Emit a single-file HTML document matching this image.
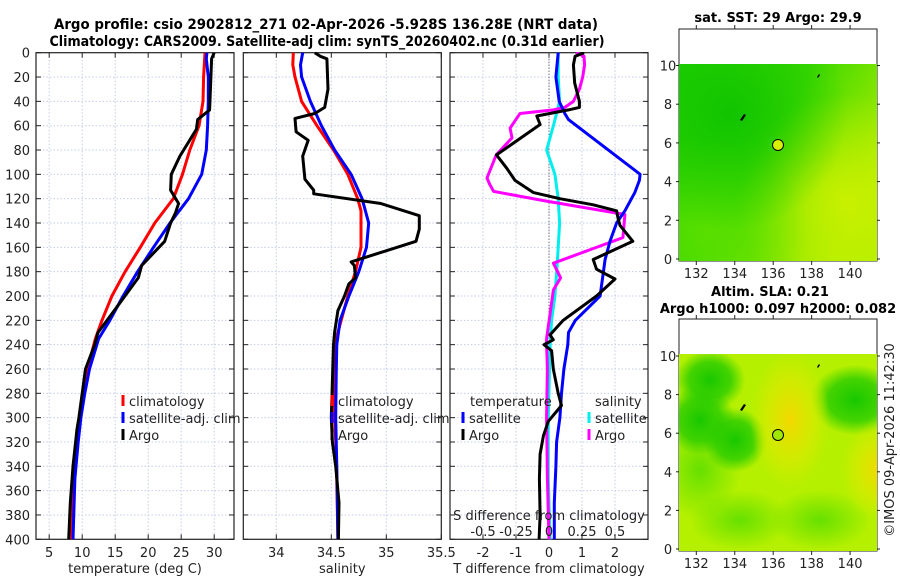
<!DOCTYPE html>
<html><head><meta charset="utf-8"><style>
html,body{margin:0;padding:0;background:#fff;}
svg{display:block;font-family:"DejaVu Sans","Liberation Sans",sans-serif;}
</style></head><body>
<svg id="fig" width="900" height="580" viewBox="0 0 900 580" xmlns="http://www.w3.org/2000/svg">
<defs>
<radialGradient id="g1" cx="0.25" cy="0.25" r="0.6"><stop offset="0" stop-color="#10c400" stop-opacity="1"/><stop offset="1" stop-color="#10c400" stop-opacity="0"/></radialGradient>
<linearGradient id="gTopBase" x1="0" y1="0" x2="1" y2="0.6"><stop offset="0" stop-color="#22cf00"/><stop offset="0.5" stop-color="#3ed800"/><stop offset="1" stop-color="#b0ee00"/></linearGradient>
<radialGradient id="gBR" cx="0.85" cy="0.7" r="0.55"><stop offset="0" stop-color="#c8f000" stop-opacity="1"/><stop offset="1" stop-color="#c8f000" stop-opacity="0"/></radialGradient>
<radialGradient id="gBL" cx="0.15" cy="0.85" r="0.5"><stop offset="0" stop-color="#5ce000" stop-opacity="0.9"/><stop offset="1" stop-color="#5ce000" stop-opacity="0"/></radialGradient>
<radialGradient id="gY" cx="0.5" cy="0.5" r="0.5"><stop offset="0" stop-color="#f4d800"/><stop offset="0.6" stop-color="#d8ea00" stop-opacity="0.7"/><stop offset="1" stop-color="#d8ea00" stop-opacity="0"/></radialGradient>
<radialGradient id="gG" cx="0.5" cy="0.5" r="0.5"><stop offset="0" stop-color="#18c800"/><stop offset="0.6" stop-color="#28cc00" stop-opacity="0.8"/><stop offset="1" stop-color="#28cc00" stop-opacity="0"/></radialGradient>
<radialGradient id="gL" cx="0.5" cy="0.5" r="0.5"><stop offset="0" stop-color="#66e000"/><stop offset="1" stop-color="#66e000" stop-opacity="0"/></radialGradient>
<clipPath id="cTop"><rect x="679" y="64" width="198" height="197"/></clipPath>
<clipPath id="cBot"><rect x="679" y="354" width="198" height="197"/></clipPath>
<clipPath id="cP1"><rect x="36" y="52" width="198" height="488"/></clipPath>
<clipPath id="cP2"><rect x="243" y="52" width="199" height="488"/></clipPath>
<clipPath id="cP3"><rect x="450" y="52" width="198" height="488"/></clipPath>
</defs>

<text x="326" y="29" text-anchor="middle" font-size="14" font-weight="bold" textLength="544" lengthAdjust="spacingAndGlyphs">Argo profile: csio 2902812_271 02-Apr-2026 -5.928S 136.28E (NRT data)</text>
<text x="327" y="46" text-anchor="middle" font-size="14" font-weight="bold" textLength="555" lengthAdjust="spacingAndGlyphs">Climatology: CARS2009. Satellite-adj clim: synTS_20260402.nc (0.31d earlier)</text>

<g id="plots"></g>

<g>
<text x="778" y="22" text-anchor="middle" font-size="13" font-weight="bold">sat. SST: 29 Argo: 29.9</text>
<rect x="679" y="29" width="198" height="232" fill="#fff" stroke="#222"/>
<g clip-path="url(#cTop)">
<rect x="679" y="64" width="198" height="197" fill="url(#gTopBase)"/>
<rect x="679" y="64" width="198" height="197" fill="url(#gBR)"/>
<rect x="679" y="64" width="198" height="197" fill="url(#gBL)"/>
<rect x="679" y="64" width="198" height="197" fill="url(#g1)"/>
</g>
<circle cx="778" cy="145" r="5.5" fill="#d8f000" stroke="#000"/>
<path d="M740,120 l4,-6 l2,1 l-4,6z M817,77 l2,-3 l1,1 l-2,3z" fill="#000"/>
</g>
<g>
<text x="770" y="296" text-anchor="middle" font-size="13" font-weight="bold">Altim. SLA: 0.21</text>
<text x="778" y="313" text-anchor="middle" font-size="13" font-weight="bold">Argo h1000: 0.097 h2000: 0.082</text>
<rect x="679" y="319" width="198" height="232" fill="#fff" stroke="#222"/>
<g clip-path="url(#cBot)">
<rect x="679" y="354" width="198" height="197" fill="#b4f000"/>
<ellipse cx="700" cy="470" rx="40" ry="50" fill="url(#gL)"/>
<ellipse cx="820" cy="520" rx="50" ry="30" fill="url(#gL)"/>
<ellipse cx="740" cy="520" rx="50" ry="30" fill="url(#gL)"/>
<ellipse cx="710" cy="380" rx="35" ry="30" fill="url(#gG)"/>
<ellipse cx="700" cy="420" rx="35" ry="35" fill="url(#gG)"/>
<ellipse cx="735" cy="440" rx="32" ry="32" fill="url(#gG)"/>
<ellipse cx="855" cy="400" rx="45" ry="35" fill="url(#gG)"/>
<ellipse cx="790" cy="420" rx="40" ry="70" fill="url(#gY)"/>
<ellipse cx="880" cy="470" rx="40" ry="50" fill="url(#gY)"/>
</g>
<circle cx="778" cy="435" r="5.5" fill="#a0e800" stroke="#000"/>
<path d="M740,410 l4,-6 l2,1 l-4,6z M817,367 l2,-3 l1,1 l-2,3z" fill="#000"/>
</g>
<text transform="translate(894,440) rotate(-90)" text-anchor="middle" font-size="13" fill="#222">©IMOS 09-Apr-2026 11:42:30</text>
</svg>

<script>
// ===== data =====
const depthTicks = [0,20,40,60,80,100,120,140,160,180,200,220,240,260,280,300,320,340,360,380,400];
const tTicks = [5,10,15,20,25,30];
const sTicks = [34,34.5,35,35.5];
const dTicks = [-2,-1,0,1,2];
const sdTicks = [-0.5,-0.25,0,0.25,0.5];
const sdTickLabels = ["-0.5","-0.25","0","0.25","0.5"];

const climTDepth = [0,20,40,60,80,100,120,140,160,180,200,220,235,260,280,300,320,340,370,400];
const climT      = [28.6,28.4,28.3,27.7,26.3,25.2,23.8,21,18.8,16.5,14.5,13,12,10.8,10.1,9.6,9.2,9.0,8.6,8.4];
const satTDepth  = [0,5,20,40,60,80,100,120,140,160,180,200,220,235,260,280,300,320,350,400];
const satT       = [28.9,28.8,29.1,29.1,29.0,28.8,28.1,26.1,23.3,20.8,18.4,16.2,14.2,12.5,11.1,10.4,9.8,9.4,8.9,8.6];
const argoTDepth = [0,5,47,55,63,85,100,113,124,132,140,155,175,185,205,230,240,260,280,300,310,340,370,400];
const argoT      = [30.0,29.6,29.3,27.5,27.3,24.8,23.5,23.4,24.6,24.1,23.4,22.5,19,18.5,15.8,12.4,11.9,10.5,10.0,9.5,9.2,8.6,8.2,7.95];

const climSDepth = [0,10,20,40,60,80,100,120,130,160,180,200,220,240,260,300,320,350,400];
const climS      = [34.155,34.15,34.17,34.23,34.37,34.52,34.65,34.74,34.77,34.77,34.72,34.65,34.59,34.53,34.525,34.53,34.54,34.55,34.56];
const satSDepth  = [0,10,20,40,60,80,100,120,140,160,180,200,220,240,260,300,340,400];
const satS       = [34.24,34.22,34.23,34.31,34.41,34.53,34.68,34.78,34.84,34.82,34.75,34.66,34.58,34.55,34.545,34.54,34.55,34.56];
const argoSDepth = [0,3,5,30,45,50,54,65,72,85,104,113,116,124,134,145,155,172,175,185,190,200,212,230,240,300,320,340,370,400];
const argoS      = [34.35,34.4,34.46,34.47,34.44,34.35,34.17,34.18,34.29,34.24,34.26,34.34,34.34,34.95,35.3,35.3,35.27,34.68,34.71,34.72,34.66,34.62,34.56,34.53,34.52,34.5,34.51,34.54,34.57,34.565];

const satDTDepth  = [0,20,40,50,55,100,105,115,130,140,155,170,200,220,230,240,260,280,300,320,340,370,400];
const satDT       = [0.28,0.21,0.31,0.48,0.59,2.76,2.74,2.6,2.3,2.05,1.85,1.7,1.55,0.8,0.59,0.57,0.45,0.38,0.33,0.23,0.21,0.16,0.16];
const argoDTDepth = [0,3,10,25,40,45,47,52,59,84,95,105,115,120,125,130,137,142,155,170,178,186,200,220,232,236,240,245,260,280,290,303,315,330,350,380,400];
const argoDT      = [1.06,0.79,0.74,0.78,0.92,0.92,0.59,-0.37,-0.27,-1.59,-1.28,-1.03,-0.47,0.33,1.34,2.05,2.1,2.15,2.54,1.34,1.44,2.0,1.44,0.43,0.03,0.13,-0.15,0.08,0.13,0.28,0.38,-0.02,-0.17,-0.27,-0.29,-0.27,-0.3];
const satDSDepth  = [0,20,40,60,80,100,120,140,160,180,200,220,240,300,350,400];
const satDS       = [0.07,0.07,0.08,0.033,-0.018,0.045,0.07,0.08,0.07,0.058,0.045,0.02,0.008,-0.005,-0.005,0.008];
const argoDSDepth = [0,3,10,20,30,40,45,47,50,62,70,84,103,108,114,122,133,152,173,185,195,235,240,260,300,350,400];
const argoDS      = [0.205,0.265,0.27,0.255,0.23,0.185,0.12,0.033,-0.22,-0.295,-0.28,-0.4,-0.47,-0.45,-0.42,-0.02,0.575,0.56,0.033,0.088,0.033,-0.018,-0.018,-0.012,-0.018,-0.012,0];

// ===== axes =====
const NS = "http://www.w3.org/2000/svg";
const g = document.getElementById('plots');
const Y0 = 52.7, Y1 = 539.3;
const yScale = d => Y0 + (d/400)*(Y1-Y0);
function lin(d0,d1,p0,p1){ return v => p0 + (v-d0)/(d1-d0)*(p1-p0); }
const x1 = lin(3,33,36,234);
const x2 = lin(33.7,35.5,243.3,441.3);
const x3 = lin(-3,3,450,648);
const x3s = v => x3(v*4);

function el(tag, attrs, parent){
  const e = document.createElementNS(NS, tag);
  for (const k in attrs) e.setAttribute(k, attrs[k]);
  (parent||g).appendChild(e);
  return e;
}
function txt(s, x, y, size, anchor, parent){
  const t = el('text', {x:x, y:y, 'font-size':size, 'text-anchor':anchor||'middle', fill:'#222'}, parent);
  t.textContent = s;
  return t;
}

function panel(name, L, R, xs, ticks, labels, xlabel){
  const pg = el('g', {});
  
  
  ticks.forEach(v => {
    const x = xs(v);
    if (x > L+1 && x < R-1) el('line', {x1:x, x2:x, y1:Y0, y2:Y1, stroke:'#c4cbe8', 'stroke-width':1, 'stroke-dasharray':'1.5,2'}, pg);
  });
  depthTicks.forEach(d => {
    const y = yScale(d);
    if (d>0 && d<400) el('line', {x1:L, x2:R, y1:y, y2:y, stroke:'#c4cbe8', 'stroke-width':1, 'stroke-dasharray':'1.5,2'}, pg);
    el('line', {x1:L, x2:L+5, y1:y, y2:y, stroke:'#222'}, pg);
    el('line', {x1:R-5, x2:R, y1:y, y2:y, stroke:'#222'}, pg);
  });
  ticks.forEach((v,i) => {
    const x = xs(v);
    el('line', {x1:x, x2:x, y1:Y1, y2:Y1-5, stroke:'#222'}, pg);
    el('line', {x1:x, x2:x, y1:Y0, y2:Y0+5, stroke:'#222'}, pg);
    const t = txt(labels[i], x, 557, 13, 'middle', pg);
    
    
  });
  el('rect', {x:L, y:Y0, width:R-L, height:Y1-Y0, fill:'none', stroke:'#222', 'stroke-width':1.2}, pg);
  const xl = txt(xlabel, (L+R)/2, 573, 13, 'middle', pg);
  
  
  return pg;
}

function series(name, depths, vals, xs, color, clip, parent){
  const pts = depths.map((d,i) => xs(vals[i]).toFixed(1) + ',' + yScale(d).toFixed(1)).join(' ');
  const p = el('polyline', {points:pts, fill:'none', stroke:color, 'stroke-width':3, 'stroke-linejoin':'round', 'clip-path':'url(#'+clip+')'}, parent);
  
  
}
function legendEntry(name, x, y, color, label, parent){
  const lg = el('g', {}, parent);
  
  
  el('rect', {x:x-1.5, y:y-11, width:3, height:11, fill:color}, lg);
  txt(label, x+6, y, 13, 'start', lg);
}

depthTicks.forEach(d => {
  const t = txt(String(d), 30, yScale(d)+5, 13, 'end');
  
  
});

const p1 = panel('temperature-panel', 36, 234, x1, tTicks, tTicks.map(String), 'temperature (deg C)');
series('climatology-temperature-line', climTDepth, climT, x1, '#ff0000', 'cP1', p1);
series('satellite-temperature-line', satTDepth, satT, x1, '#0000ff', 'cP1', p1);
series('argo-temperature-line', argoTDepth, argoT, x1, '#000000', 'cP1', p1);
legendEntry('legend-climatology', 123, 406, '#ff0000', 'climatology', p1);
legendEntry('legend-satellite-adj', 123, 423, '#0000ff', 'satellite-adj. clim', p1);
legendEntry('legend-argo', 123, 440, '#000000', 'Argo', p1);

const p2 = panel('salinity-panel', 243.3, 441.3, x2, sTicks, ["34","34.5","35","35.5"], 'salinity');
series('climatology-salinity-line', climSDepth, climS, x2, '#ff0000', 'cP2', p2);
series('satellite-salinity-line', satSDepth, satS, x2, '#0000ff', 'cP2', p2);
series('argo-salinity-line', argoSDepth, argoS, x2, '#000000', 'cP2', p2);
legendEntry('legend-climatology-sal', 332, 406, '#ff0000', 'climatology', p2);
legendEntry('legend-satellite-adj-sal', 332, 423, '#0000ff', 'satellite-adj. clim', p2);
legendEntry('legend-argo-sal', 332, 440, '#000000', 'Argo', p2);

const p3 = panel('difference-panel', 450, 648, x3, dTicks, dTicks.map(String), 'T difference from climatology');
el('line', {x1:x3(0), x2:x3(0), y1:Y0, y2:Y1, stroke:'#445', 'stroke-width':1, 'stroke-dasharray':'1,2'}, p3);
series('satellite-salinity-diff-line', satDSDepth, satDS, x3s, '#00eeee', 'cP3', p3);
series('argo-salinity-diff-line', argoDSDepth, argoDS, x3s, '#ff00ff', 'cP3', p3);
series('satellite-temperature-diff-line', satDTDepth, satDT, x3, '#0000ff', 'cP3', p3);
series('argo-temperature-diff-line', argoDTDepth, argoDT, x3, '#000000', 'cP3', p3);
const lt = txt('temperature', 470, 406, 13, 'start', p3);


const ls = txt('salinity', 595, 406, 13, 'start', p3);


legendEntry('legend-temp-satellite', 463, 423, '#0000ff', 'satellite', p3);
legendEntry('legend-temp-argo', 463, 440, '#000000', 'Argo', p3);
legendEntry('legend-sal-satellite', 589, 423, '#00eeee', 'satellite', p3);
legendEntry('legend-sal-argo', 589, 440, '#ff00ff', 'Argo', p3);
const sdt = txt('S difference from climatology', 549, 520, 13, 'middle', p3);


sdTicks.forEach((v,i) => {
  const t = txt(sdTickLabels[i], x3s(v), 536, 13, 'middle', p3);
  
  
});

const mapLon = lin(131.1, 141.4, 679, 877);
const lonTicks = [132,134,136,138,140];
const latTicks = [0,2,4,6,8,10];
function mapAxes(name, y0lat, y10lat, top, bottom){
  const mg = el('g', {});
  
  
  const ys = lin(0,10,y0lat,y10lat);
  latTicks.forEach(v => {
    const y = ys(v);
    el('line', {x1:679, x2:676, y1:y, y2:y, stroke:'#222'}, mg);
    el('line', {x1:877, x2:880, y1:y, y2:y, stroke:'#222'}, mg);
    txt(String(v), 668, y+5, 13, 'middle', mg);
  });
  lonTicks.forEach(v => {
    const x = mapLon(v);
    el('line', {x1:x, x2:x, y1:bottom, y2:bottom+4, stroke:'#222'}, mg);
    el('line', {x1:x, x2:x, y1:top, y2:top-4, stroke:'#222'}, mg);
    txt(String(v), x, bottom+17, 13, 'middle', mg);
  });
}
mapAxes('sst-map-axes', 259, 65.5, 29, 261);
mapAxes('sla-map-axes', 549, 356, 319, 551);
</script>
</body></html>
